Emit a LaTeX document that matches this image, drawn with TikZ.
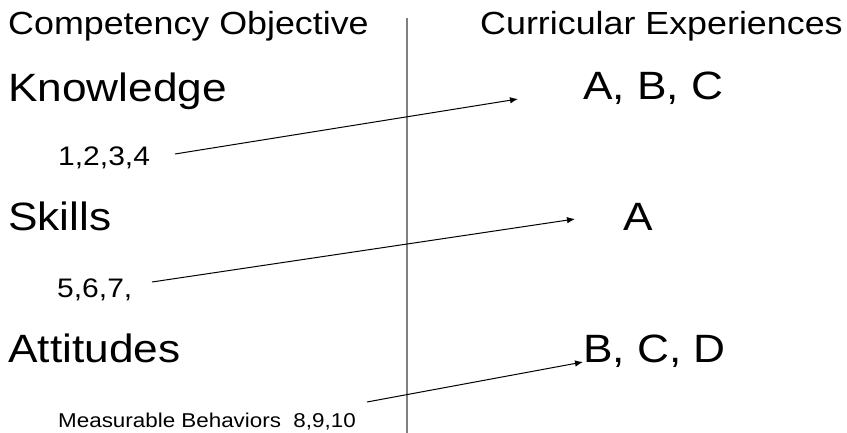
\documentclass[tikz,border=0pt]{standalone}
\usepackage{fontspec}
\setmainfont[FakeStretch=1.12]{Liberation Sans}
\usetikzlibrary{arrows.meta}
\begin{document}
\begin{tikzpicture}[x=1pt,y=-1pt,
  head/.style={anchor=base west,inner sep=0pt,font=\fontsize{32}{32}\selectfont},
  big/.style={anchor=base west,inner sep=0pt,font=\fontsize{39.5}{39.5}\selectfont},
  small/.style={anchor=base west,inner sep=0pt,font=\fontsize{26.8}{26.8}\selectfont},
  tiny/.style={anchor=base west,inner sep=0pt,font=\fontsize{20}{20}\selectfont},
  conn/.style={-{Latex[length=8pt,width=6.5pt]},line width=1pt}]
\useasboundingbox (0,0) rectangle (847,433);
\node[head] (co) at (8,35) {Competency Objective};
\node[head] (ce) at (480,35) {Curricular Experiences};
\node[big] (kn) at (8,102) {Knowledge};
\node[big] (abc) at (583,100) {A, B, C};
\node[small] (n1) at (58,166) {1,2,3,4};
\node[big] (sk) at (8,230) {Skills};
\node[big] (a) at (623,230) {A};
\node[small] (n2) at (57,297) {5,6,7,};
\node[big] (at) at (8,362) {Attitudes};
\node[big] (bcd) at (583,362) {B, C, D};
\node[tiny] (mb) at (58,427) {Measurable Behaviors\ \ 8,9,10};
\coordinate (t1) at (518,99);
\coordinate (t2) at (575,219);
\coordinate (t3) at (583,362);
\coordinate (s1) at (175,154);
\coordinate (s2) at (152,282);
\coordinate (s3) at (367,402);
\coordinate (vtop) at (407,18);
\coordinate (vbot) at (407,433);
\draw[gray,line width=1.6pt] (vtop) -- (vbot);
\draw[conn] (s1) -- (t1);
\draw[conn] (s2) -- (t2);
\draw[conn] (s3) -- (t3);
\end{tikzpicture}
\end{document}
